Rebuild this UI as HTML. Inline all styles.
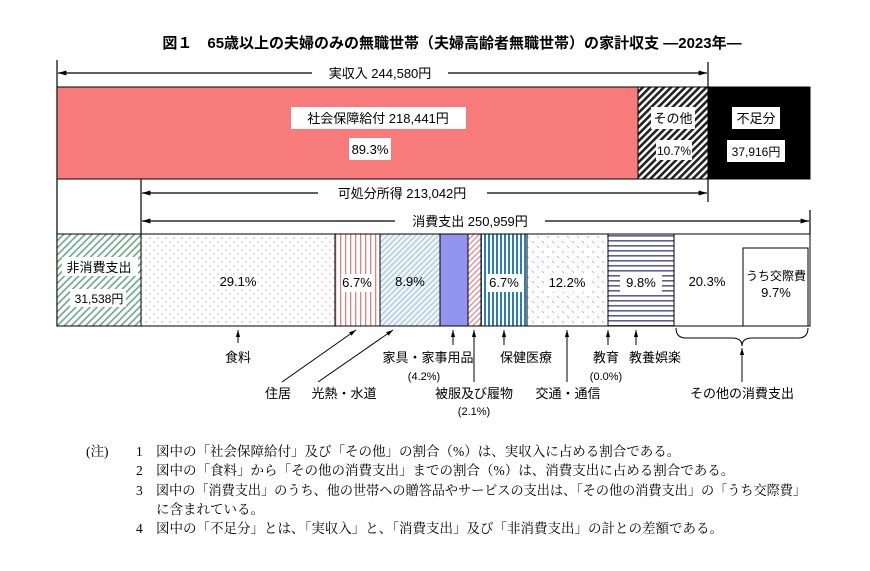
<!DOCTYPE html>
<html><head><meta charset="utf-8"><style>
body{margin:0;background:#fff;width:870px;height:566px;overflow:hidden}
.s{font-family:"Liberation Sans","Noto Sans CJK JP",sans-serif}
.r{font-family:"Liberation Serif","Noto Serif CJK SC",serif}
</style></head><body>
<svg width="870" height="566" xmlns="http://www.w3.org/2000/svg" class="s">
<defs>
<marker id="ah" viewBox="0 0 10 10" refX="10" refY="5" markerWidth="7" markerHeight="7" orient="auto-start-reverse"><path d="M0,2 L10,5 L0,8z" fill="#000"/></marker>
<pattern id="blk" width="5" height="5" patternUnits="userSpaceOnUse" patternTransform="rotate(45)"><rect width="5" height="5" fill="#fff"/><rect width="2.6" height="5" fill="#222"/></pattern>
<pattern id="grn" width="5" height="5" patternUnits="userSpaceOnUse" patternTransform="rotate(45)"><rect width="5" height="5" fill="#fff"/><rect width="1.6" height="5" fill="#6aa88a"/></pattern>
<pattern id="dot" width="8" height="8" patternUnits="userSpaceOnUse"><rect width="8" height="8" fill="#fff"/><circle cx="2" cy="2" r="0.7" fill="#aab"/><circle cx="6" cy="6" r="0.7" fill="#aab"/></pattern>
<pattern id="rv" width="5" height="5" patternUnits="userSpaceOnUse"><rect width="5" height="5" fill="#fff"/><rect width="1.3" height="5" fill="#e08080"/></pattern>
<pattern id="ld" width="4" height="4" patternUnits="userSpaceOnUse" patternTransform="rotate(45)"><rect width="4" height="4" fill="#eef4fa"/><rect width="1" height="4" fill="#9cc0dc"/></pattern>
<pattern id="pk" width="4" height="4" patternUnits="userSpaceOnUse" patternTransform="rotate(45)"><rect width="4" height="4" fill="#fff"/><rect width="1.3" height="4" fill="#e08a8a"/></pattern>
<pattern id="bv" width="4" height="4" patternUnits="userSpaceOnUse"><rect width="4" height="4" fill="#fff"/><rect width="2" height="4" fill="#2a7fb0"/></pattern>
<pattern id="dd" width="10" height="10" patternUnits="userSpaceOnUse"><rect width="10" height="10" fill="#fff"/><path d="M2,1 l2,2 M7,6 l2,2" stroke="#aab" stroke-width="0.8"/></pattern>
<pattern id="hs" width="5" height="5" patternUnits="userSpaceOnUse"><rect width="5" height="5" fill="#fff"/><rect width="5" height="1.6" fill="#5a5e9a"/></pattern>
</defs>
<text x="452" y="48" text-anchor="middle" font-size="15" font-weight="bold">図１　65歳以上の夫婦のみの無職世帯（夫婦高齢者無職世帯）の家計収支  ―2023年―</text>
<g stroke="#000" stroke-width="1.2" fill="none">
<line x1="57" y1="60" x2="57" y2="326"/>
<line x1="708" y1="62" x2="708" y2="202"/>
<line x1="141" y1="179" x2="141" y2="234"/>
<line x1="810" y1="210" x2="810" y2="234"/>
<line x1="58" y1="73" x2="312" y2="73" marker-start="url(#ah)"/>
<line x1="448" y1="73" x2="707" y2="73" marker-end="url(#ah)"/>
<line x1="142" y1="193" x2="318" y2="193" marker-start="url(#ah)"/>
<line x1="487" y1="193" x2="707" y2="193" marker-end="url(#ah)"/>
<line x1="142" y1="221" x2="395" y2="221" marker-start="url(#ah)"/>
<line x1="545" y1="221" x2="809" y2="221" marker-end="url(#ah)"/>
</g>
<g font-size="13" text-anchor="middle">
<text x="380" y="78">実収入  244,580円</text>
<text x="402" y="198">可処分所得  213,042円</text>
<text x="470" y="226">消費支出  250,959円</text>
</g>
<rect x="57" y="87" width="581" height="92" fill="#f77b7b" stroke="#000"/>
<rect x="638" y="87" width="70" height="92" fill="url(#blk)" stroke="#000"/>
<rect x="708" y="87" width="102" height="92" fill="#000" stroke="#000"/>
<rect x="57" y="179" width="84" height="55" fill="none" stroke="#000"/>
<g font-size="13" text-anchor="middle">
<rect x="291" y="107" width="175" height="22" fill="#fff"/>
<text x="378" y="123">社会保障給付  218,441円</text>
<rect x="349" y="138" width="42" height="22" fill="#fff"/>
<text x="370" y="154">89.3%</text>
<rect x="651" y="107" width="44" height="22" fill="#fff"/>
<text x="673" y="123">その他</text>
<rect x="656" y="140" width="36" height="20" fill="#fff"/>
<text x="674" y="155" font-size="12">10.7%</text>
<rect x="732" y="107" width="48" height="22" fill="#fff"/>
<text x="756" y="123">不足分</text>
<rect x="727" y="140" width="58" height="22" fill="#fff"/>
<text x="756" y="156" font-size="12">37,916円</text>
</g>
<g stroke="#000" stroke-width="1">
<rect x="57" y="234" width="84" height="92" fill="url(#grn)"/>
<rect x="141" y="234" width="194" height="92" fill="url(#dot)"/>
<rect x="335" y="234" width="45" height="92" fill="url(#rv)"/>
<rect x="380" y="234" width="60" height="92" fill="url(#ld)"/>
<rect x="440" y="234" width="28" height="92" fill="#9393f0"/>
<rect x="468" y="234" width="13" height="92" fill="url(#pk)"/>
<rect x="481" y="234" width="46" height="92" fill="url(#bv)"/>
<rect x="527" y="234" width="81" height="92" fill="url(#dd)"/>
<rect x="608" y="234" width="66" height="92" fill="url(#hs)"/>
<rect x="674" y="234" width="136" height="92" fill="#fff"/>
<rect x="743" y="248" width="65" height="78" fill="#fff"/>
</g>
<g font-size="13" text-anchor="middle">
<rect x="62" y="257" width="76" height="19" fill="#fff"/><text x="99" y="272">非消費支出</text>
<rect x="70" y="289" width="56" height="18" fill="#fff"/><text x="99" y="303" font-size="12">31,538円</text>
<text x="238" y="286">29.1%</text>
<rect x="341" y="274" width="33" height="18" fill="#fff"/><text x="357" y="287">6.7%</text>
<text x="410" y="286">8.9%</text>
<rect x="486" y="274" width="36" height="18" fill="#fff"/><text x="504" y="287">6.7%</text>
<rect x="545" y="274" width="46" height="18" fill="#fff"/><text x="567" y="287">12.2%</text>
<rect x="620" y="274" width="42" height="18" fill="#fff"/><text x="641" y="287">9.8%</text>
<text x="707" y="286">20.3%</text>
<text x="776" y="280" font-size="12">うち交際費</text>
<text x="776" y="297">9.7%</text>
</g>
<g stroke="#000" stroke-width="1" fill="none">
<line x1="238" y1="343" x2="238" y2="330" marker-end="url(#ah)"/>
<line x1="282" y1="382" x2="356" y2="330" marker-end="url(#ah)"/>
<line x1="318" y1="382" x2="393" y2="330" marker-end="url(#ah)"/>
<line x1="453" y1="345" x2="453" y2="330" marker-end="url(#ah)"/>
<line x1="474" y1="382" x2="474" y2="330" marker-end="url(#ah)"/>
<line x1="504" y1="345" x2="504" y2="330" marker-end="url(#ah)"/>
<line x1="567" y1="382" x2="567" y2="330" marker-end="url(#ah)"/>
<line x1="608" y1="345" x2="608" y2="330" marker-end="url(#ah)"/>
<line x1="636" y1="345" x2="636" y2="330" marker-end="url(#ah)"/>
<line x1="742" y1="382" x2="742" y2="348" marker-end="url(#ah)"/>
<path d="M676,328 q0,10 10,10 h46 q10,0 10,8 q0,-8 10,-8 h46 q10,0 10,-10"/>
</g>
<g font-size="13" text-anchor="middle">
<text x="238" y="362">食料</text>
<text x="278" y="398">住居</text>
<text x="344" y="398">光熱・水道</text>
<text x="428" y="362">家具・家事用品</text>
<text x="424" y="380" font-size="11">(4.2%)</text>
<text x="474" y="398">被服及び履物</text>
<text x="474" y="415" font-size="11">(2.1%)</text>
<text x="526" y="362">保健医療</text>
<text x="568" y="398">交通・通信</text>
<text x="606" y="362">教育</text>
<text x="606" y="380" font-size="11">(0.0%)</text>
<text x="655" y="362">教養娯楽</text>
<text x="742" y="398">その他の消費支出</text>
</g>
<g class="r" font-size="13.5">
<text x="86" y="456">(注)</text>
<text x="136" y="456">1</text><text x="156" y="456">図中の「社会保障給付」及び「その他」の割合（%）は、実収入に占める割合である。</text>
<text x="136" y="475">2</text><text x="156" y="475">図中の「食料」から「その他の消費支出」までの割合（%）は、消費支出に占める割合である。</text>
<text x="136" y="495">3</text><text x="156" y="495" textLength="650" lengthAdjust="spacingAndGlyphs">図中の「消費支出」のうち、他の世帯への贈答品やサービスの支出は、「その他の消費支出」の「うち交際費」</text>
<text x="156" y="514">に含まれている。</text>
<text x="136" y="533">4</text><text x="156" y="533">図中の「不足分」とは、「実収入」と、「消費支出」及び「非消費支出」の計との差額である。</text>
</g>
</svg>
</body></html>
